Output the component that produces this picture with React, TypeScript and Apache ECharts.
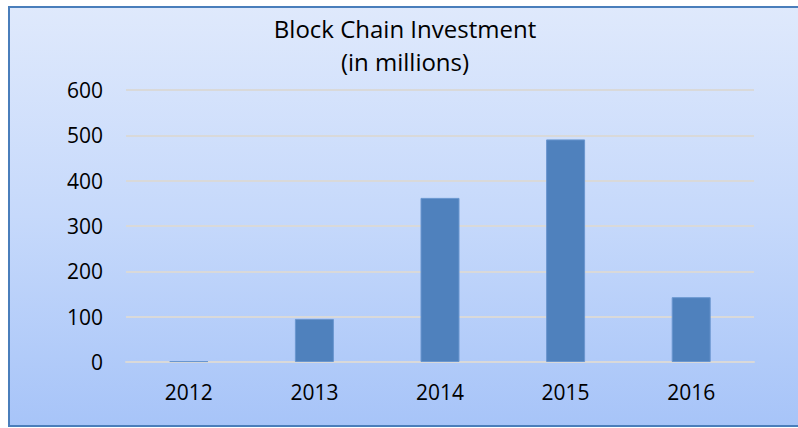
import React, { useEffect, useRef } from "react";
import * as echarts from "echarts";

const categories = ["2012", "2013", "2014", "2015", "2016"];
const investment = [2, 95, 362, 491, 143];
const yTicks = [0, 100, 200, 300, 400, 500, 600];
const titleLines = ["Block Chain Investment", "(in millions)"];

export default function App() {
  const ref = useRef<HTMLDivElement>(null);
  useEffect(() => {
    if (!ref.current) return;
    const chart = echarts.init(ref.current, null, { renderer: "svg" });
    const font = "'Open Sans', sans-serif";
    chart.setOption({
      animation: false,
      backgroundColor: "#ffffff",
      graphic: [
        {
          type: "rect",
          z: -10,
          silent: true,
          shape: { x: 9, y: 7, width: 820, height: 419 },
          style: {
            fill: new echarts.graphic.LinearGradient(0, 0, 0, 1, [
              { offset: 0, color: "#dfe9fc" },
              { offset: 0.5, color: "#c6d9fb" },
              { offset: 1, color: "#a7c4f8" },
            ]),
            stroke: "#4a7ebb",
            lineWidth: 2,
          },
        },
      ],
      title: {
        text: titleLines.join("\n"),
        left: 400,
        top: 7,
        textAlign: "center",
        textStyle: {
          fontFamily: font,
          fontSize: 24,
          fontWeight: "normal",
          color: "#000000",
          lineHeight: 33,
        },
      },
      grid: { left: 126, right: 44, top: 90, bottom: 66 },
      xAxis: {
        type: "category",
        data: categories,
        axisLine: { show: true, lineStyle: { color: "#d9d9d9", width: 2 } },
        axisTick: { show: false },
        axisLabel: { fontFamily: font, fontSize: 21, color: "#000000", margin: 19 },
      },
      yAxis: {
        type: "value",
        min: yTicks[0],
        max: yTicks[yTicks.length - 1],
        interval: 100,
        axisLine: { show: false },
        axisTick: { show: false },
        axisLabel: { fontFamily: font, fontSize: 21, color: "#000000", margin: 23 },
        splitLine: { lineStyle: { color: "#d9d9d9", width: 2 } },
      },
      series: [
        {
          type: "bar",
          data: investment,
          barWidth: 39,
          itemStyle: { color: "#4f81bd", borderColor: "#6a96cf", borderWidth: 1 },
        },
      ],
    });
    return () => chart.dispose();
  }, []);
  return (
    <div
      ref={ref}
      style={{ position: "fixed", left: 0, top: 0, width: 798, height: 428 }}
    />
  );
}
